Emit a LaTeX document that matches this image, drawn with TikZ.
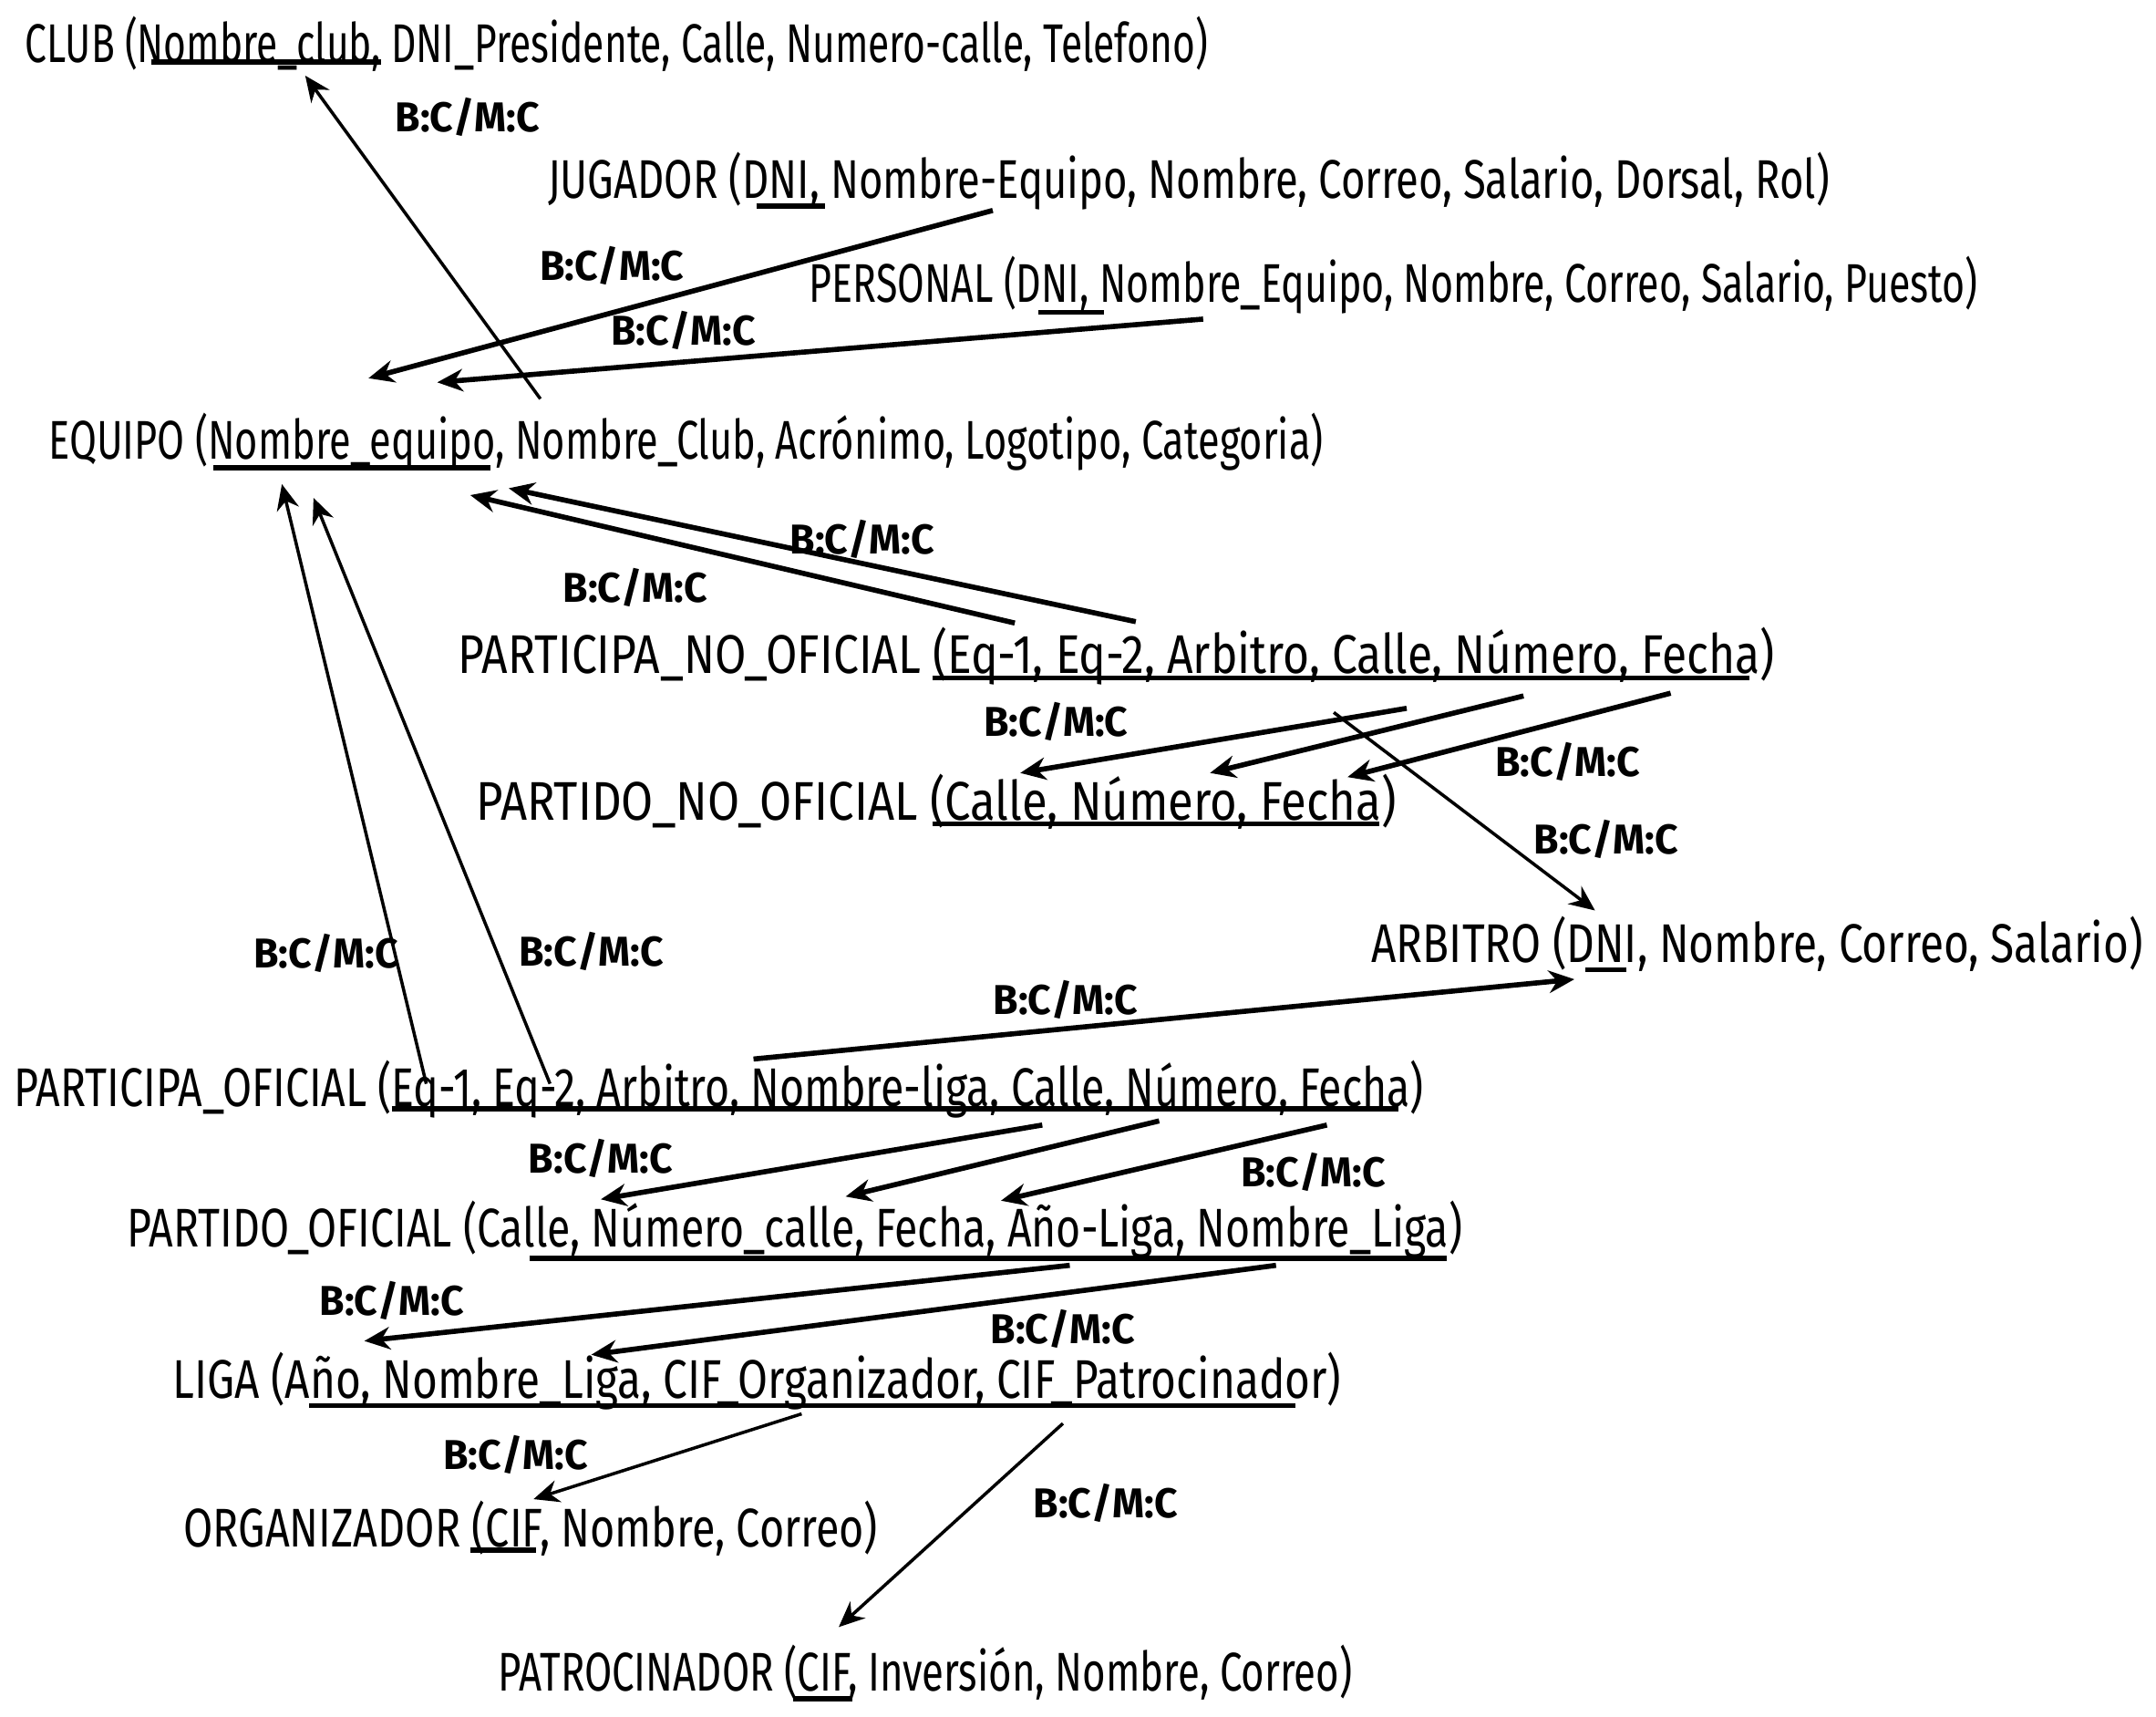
\documentclass[tikz,border=0pt]{standalone}
\usepackage{fontspec}
\setmainfont{Fira Sans}
\usetikzlibrary{arrows.meta}
\newlength\upx
\setlength\upx{0.01508cm}
\newcommand{\fitw}[2]{\resizebox{#1\upx}{\height}{#2}}
\tikzset{
  rel/.style={anchor=west, inner sep=0pt, font=\fontsize{17}{19}\selectfont},
  card/.style={inner sep=0pt, font=\fontsize{13}{15}\selectfont\bfseries},
  keyline/.style={line width=1.6pt},
  arr/.style={line width=1.6pt, -{Stealth[length=8pt,width=7pt]}},
  thinarr/.style={line width=1pt, -{Stealth[length=8pt,width=7pt]}},
}
\newcommand{\bcm}{\fitw{105}{B:C/M:C}}
\begin{document}
\begin{tikzpicture}[x=0.01508cm, y=-0.01508cm]
\useasboundingbox (0,0) rectangle (1568,1248);
\fill[white] (0,0) rectangle (1568,1248);

% relations
\node[rel] (club) at (18,32) {\fitw{860}{CLUB (Nombre\_club, DNI\_Presidente, Calle, Numero-calle, Telefono)}};
\node[rel] (jug) at (398,132) {\fitw{932}{JUGADOR (DNI, Nombre-Equipo, Nombre, Correo, Salario, Dorsal, Rol)}};
\node[rel] (pers) at (588,207) {\fitw{850}{PERSONAL (DNI, Nombre\_Equipo, Nombre, Correo, Salario, Puesto)}};
\node[rel] (equipo) at (35,321) {\fitw{927}{EQUIPO (Nombre\_equipo, Nombre\_Club, Acrónimo, Logotipo, Categoria)}};
\node[rel] (pno) at (333,477) {\fitw{957}{PARTICIPA\_NO\_OFICIAL (Eq-1, Eq-2, Arbitro, Calle, Número, Fecha)}};
\node[rel] (ptno) at (346,583) {\fitw{669}{PARTIDO\_NO\_OFICIAL (Calle, Número, Fecha)}};
\node[rel] (arb) at (997,686) {\fitw{561}{ARBITRO (DNI, Nombre, Correo, Salario)}};
\node[rel] (po) at (10,792) {\fitw{1025}{PARTICIPA\_OFICIAL (Eq-1, Eq-2, Arbitro, Nombre-liga, Calle, Número, Fecha)}};
\node[rel] (pto) at (92,894) {\fitw{971}{PARTIDO\_OFICIAL (Calle, Número\_calle, Fecha, Año-Liga, Nombre\_Liga)}};
\node[rel] (liga) at (125,1004) {\fitw{850}{LIGA (Año, Nombre\_Liga, CIF\_Organizador, CIF\_Patrocinador)}};
\node[rel] (org) at (133,1111) {\fitw{505}{ORGANIZADOR (CIF, Nombre, Correo)}};
\node[rel] (pat) at (362,1216) {\fitw{621}{PATROCINADOR (CIF, Inversión, Nombre, Correo)}};

% key underlines
\draw[keyline] (110,45) -- (277,45);
\draw[keyline] (550,150) -- (600,150);
\draw[keyline] (755,227) -- (803,227);
\draw[keyline] (155,340) -- (357,340);
\draw[keyline] (678,493) -- (1272,493);
\draw[keyline] (678,599) -- (1003,599);
\draw[keyline] (1153,705) -- (1183,705);
\draw[keyline] (285,806) -- (1017,806);
\draw[keyline] (385,915) -- (1052,915);
\draw[keyline] (225,1022) -- (942,1022);
\draw[keyline] (342,1127) -- (390,1127);
\draw[keyline] (577,1235) -- (620,1235);

% connector end points
\coordinate (a1s) at (393,290);  \coordinate (a1e) at (222,55);
\coordinate (a2s) at (722,153);  \coordinate (a2e) at (268,275);
\coordinate (a3s) at (875,232);  \coordinate (a3e) at (318,278);
\coordinate (a4s) at (738,453);  \coordinate (a4e) at (342,360);
\coordinate (a5s) at (826,452);  \coordinate (a5e) at (370,355);
\coordinate (a6s) at (1023,515); \coordinate (a6e) at (742,562);
\coordinate (a7s) at (1108,506); \coordinate (a7e) at (880,562);
\coordinate (a8s) at (1215,504); \coordinate (a8e) at (980,565);
\coordinate (a9s) at (970,518);  \coordinate (a9e) at (1160,662);
\coordinate (b1s) at (548,770);  \coordinate (b1e) at (1145,712);
\coordinate (b2s) at (310,788);  \coordinate (b2e) at (205,352);
\coordinate (b3s) at (400,788);  \coordinate (b3e) at (228,362);
\coordinate (b4s) at (758,818);  \coordinate (b4e) at (437,872);
\coordinate (b5s) at (843,815);  \coordinate (b5e) at (615,870);
\coordinate (b6s) at (965,818);  \coordinate (b6e) at (728,873);
\coordinate (c1s) at (778,920);  \coordinate (c1e) at (265,975);
\coordinate (c2s) at (928,920);  \coordinate (c2e) at (430,985);
\coordinate (c3s) at (583,1028); \coordinate (c3e) at (388,1090);
\coordinate (c4s) at (773,1035); \coordinate (c4e) at (610,1183);

\draw[thinarr] (a1s) -- (a1e);
\draw[arr] (a2s) -- (a2e);
\draw[arr] (a3s) -- (a3e);
\draw[arr] (a4s) -- (a4e);
\draw[arr] (a5s) -- (a5e);
\draw[arr] (a6s) -- (a6e);
\draw[arr] (a7s) -- (a7e);
\draw[arr] (a8s) -- (a8e);
\draw[thinarr] (a9s) -- (a9e);
\draw[arr] (b1s) -- (b1e);
\draw[thinarr] (b2s) -- (b2e);
\draw[thinarr] (b3s) -- (b3e);
\draw[arr] (b4s) -- (b4e);
\draw[arr] (b5s) -- (b5e);
\draw[arr] (b6s) -- (b6e);
\draw[arr] (c1s) -- (c1e);
\draw[arr] (c2s) -- (c2e);
\draw[thinarr] (c3s) -- (c3e);
\draw[thinarr] (c4s) -- (c4e);

% cardinality labels
\node[card] (l1) at (340,85) {\bcm};
\node[card] (l2) at (445,193) {\bcm};
\node[card] (l3) at (497,240) {\bcm};
\node[card] (l4) at (627,392) {\bcm};
\node[card] (l5) at (462,427) {\bcm};
\node[card] (l6) at (768,525) {\bcm};
\node[card] (l7) at (1140,554) {\bcm};
\node[card] (l8) at (1168,610) {\bcm};
\node[card] (l9) at (237,693) {\bcm};
\node[card] (l10) at (430,692) {\bcm};
\node[card] (l11) at (775,727) {\bcm};
\node[card] (l12) at (437,842) {\bcm};
\node[card] (l13) at (955,852) {\bcm};
\node[card] (l14) at (285,946) {\bcm};
\node[card] (l15) at (773,966) {\bcm};
\node[card] (l16) at (375,1058) {\bcm};
\node[card] (l17) at (804,1093) {\bcm};
\end{tikzpicture}
\end{document}
